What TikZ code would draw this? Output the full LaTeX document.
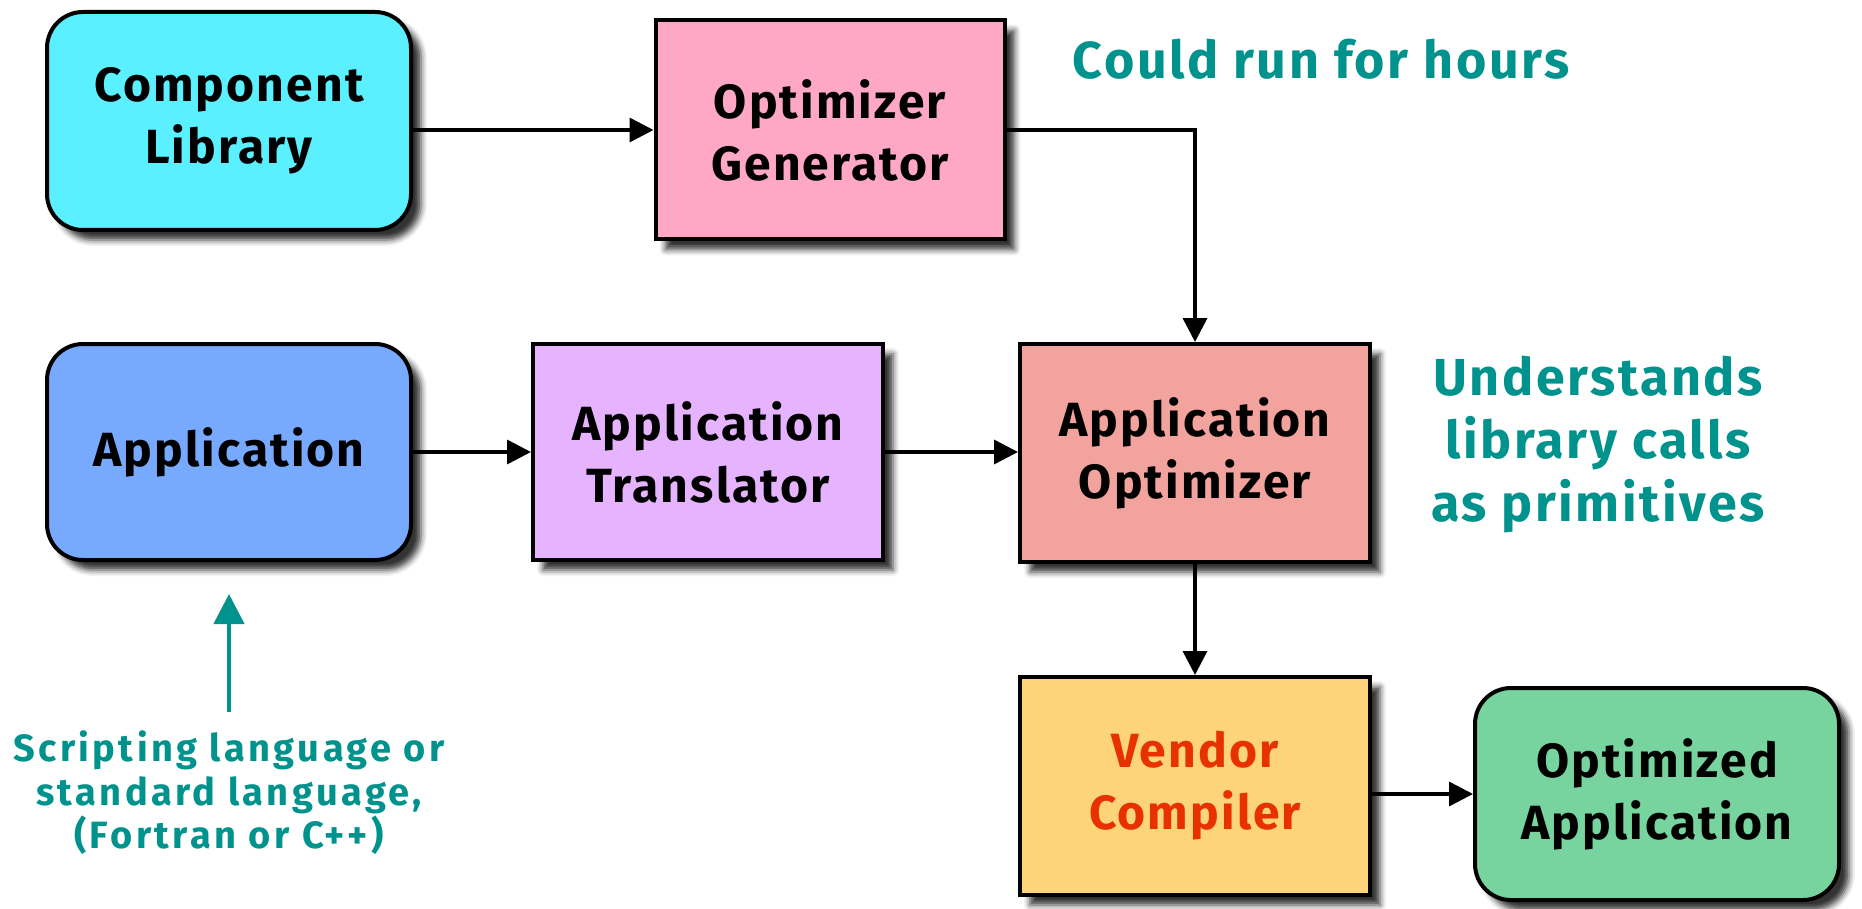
\documentclass[tikz,border=0pt]{standalone}
\usepackage{fontspec}
\setmainfont{Fira Sans}
\newfontfamily\boxfont[LetterSpace=4.4]{Fira Sans}
\newfontfamily\notefont[LetterSpace=5]{Fira Sans}
\newfontfamily\snotefont[LetterSpace=9]{Fira Sans}
\usetikzlibrary{shadows.blur,arrows.meta}
\definecolor{cCyan}{HTML}{5BF0FF}
\definecolor{cPink}{HTML}{FFA8C5}
\definecolor{cBlue}{HTML}{77AAFF}
\definecolor{cLav}{HTML}{E6B3FF}
\definecolor{cSalmon}{HTML}{F2A39E}
\definecolor{cYellow}{HTML}{FDD47A}
\definecolor{cGreen}{HTML}{77D49E}
\definecolor{cTeal}{HTML}{00928C}
\definecolor{cRed}{HTML}{E83100}
\begin{document}
\begin{tikzpicture}[x=1pt,y=-1pt,
  box/.style={draw=black, line width=4pt, align=center,
    font=\boxfont\fontsize{48}{62}\selectfont\bfseries,
    blur shadow={shadow xshift=10pt, shadow yshift=-10pt, shadow opacity=80, shadow blur radius=6pt}},
  rbox/.style={box, rounded corners=36pt},
  arr/.style={line width=3.5pt, -{Triangle[length=24pt,width=24pt]}},
  tarr/.style={draw=cTeal, line width=4.5pt, -{Triangle[length=30pt,width=30pt]}},
  note/.style={text=cTeal, align=center, font=\notefont\fontsize{52}{63}\selectfont\bfseries},
  snote/.style={text=cTeal, align=center, font=\snotefont\fontsize{38}{43.5}\selectfont\bfseries}]
\useasboundingbox (0,0) rectangle (1862,909);
\node[rbox, fill=cCyan, minimum width=364pt, minimum height=218pt] (cl) at (229,121) {Component\\Library};
\node[box, fill=cPink, minimum width=349pt, minimum height=219pt] (og) at (830,130) {Optimizer\\Generator};
\node[rbox, fill=cBlue, minimum width=364pt, minimum height=216pt] (app) at (229,452) {Application};
\node[box, fill=cLav, minimum width=350pt, minimum height=216pt] (at) at (708,452) {Application\\Translator};
\node[box, fill=cSalmon, minimum width=350pt, minimum height=218pt] (ao) at (1195,453) {Application\\Optimizer};
\node[box, fill=cYellow, minimum width=350pt, minimum height=218pt, text=cRed] (vc) at (1195,786) {Vendor\\Compiler};
\node[rbox, fill=cGreen, minimum width=364pt, minimum height=212pt] (oa) at (1657,794) {Optimized\\Application};
\node[note] (hours) at (1321,59) {Could run for hours};
\node[note] (under) at (1598,445) {Understands\\library calls\\as primitives};
\node[snote] (script) at (229,793) {Scripting language or\\standard language,\\(Fortran or C++)};
\coordinate (tip) at (229,594);
\coordinate (tail) at (229,712);
\draw[arr] (cl.east |- og.west) -- (og.west);
\draw[arr] (og.east) -| (ao.north);
\draw[arr] (app.east) -- (at.west);
\draw[arr] (at.east) -- (ao.west |- at.east);
\draw[arr] (ao.south) -- (vc.north);
\draw[arr] (vc.east |- oa.west) -- (oa.west);
\draw[tarr] (tail) -- (tip);
\end{tikzpicture}
\end{document}
